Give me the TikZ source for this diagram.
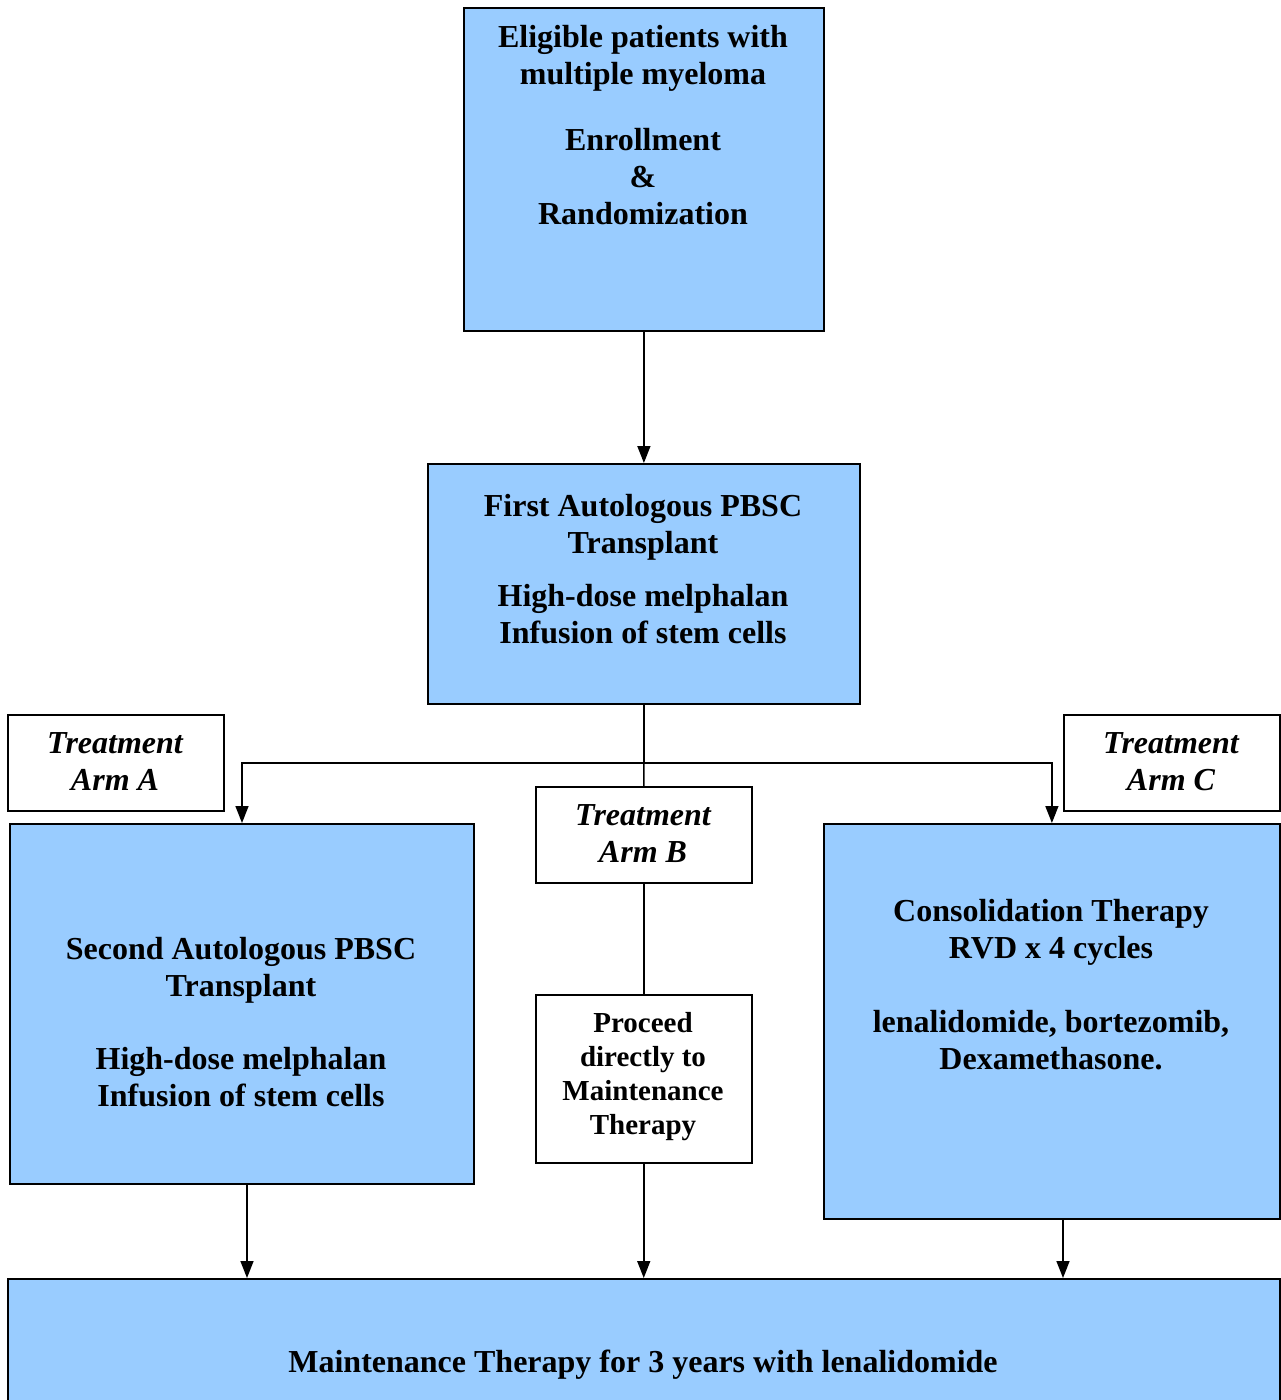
\documentclass[tikz,border=0pt]{standalone}
\usepackage{fontspec}
\setmainfont{Liberation Serif}
\usetikzlibrary{arrows.meta}
\definecolor{boxblue}{HTML}{99CCFF}
\tikzset{
  stage/.style={draw=black, line width=1.8pt, fill=boxblue, anchor=north west, inner sep=0pt},
  armbox/.style={draw=black, line width=1.5pt, fill=white, anchor=north west, inner sep=0pt},
  txt/.style={align=center, anchor=north, font=\fontsize{32}{37}\selectfont\bfseries, inner sep=0pt},
  armtxt/.style={align=center, anchor=north, font=\fontsize{32}{37}\selectfont\bfseries\itshape, inner sep=0pt},
  smalltxt/.style={align=center, anchor=north, font=\fontsize{29}{34}\selectfont\bfseries, inner sep=0pt},
  link/.style={line width=1.5pt},
  flow/.style={line width=1.5pt, -{Triangle[width=13pt,length=17pt]}}
}
\begin{document}
\begin{tikzpicture}[x=1pt,y=-1pt]
\useasboundingbox (0,0) rectangle (1281,1400);

% main stages
\node[stage, minimum width=360pt, minimum height=323pt] (enrol) at (463,7) {};
\node[stage, minimum width=432pt, minimum height=240pt] (first) at (427,463) {};
\node[stage, minimum width=464pt, minimum height=360pt] (second) at (9,823) {};
\node[stage, minimum width=456pt, minimum height=395pt] (consol) at (823,823) {};
\node[stage, minimum width=1272pt, minimum height=140pt] (maint) at (7,1278) {};

% arm labels
\node[armbox, minimum width=216pt, minimum height=96pt] (armA) at (7,714) {};
\node[armbox, minimum width=216pt, minimum height=96pt] (armB) at (535,786) {};
\node[armbox, minimum width=216pt, minimum height=96pt] (armC) at (1063,714) {};
\node[armbox, minimum width=216pt, minimum height=168pt] (direct) at (535,994) {};

% texts
\node[txt] (enrolT) at (643,25.5) {Eligible patients with\\multiple myeloma\\[29pt]Enrollment\\\&\\Randomization};
\node[txt] (firstT) at (643,494.5) {First Autologous PBSC\\Transplant\\[16pt]High-dose melphalan\\Infusion of stem cells};
\node[txt] (secondT) at (241,937.5) {Second Autologous PBSC\\Transplant\\[36pt]High-dose melphalan\\Infusion of stem cells};
\node[txt] (consolT) at (1051,899.5) {Consolidation Therapy\\RVD x 4 cycles\\[37pt]lenalidomide, bortezomib,\\Dexamethasone.};
\node[txt] (maintT) at (643,1349.5) {Maintenance Therapy for 3 years with lenalidomide};
\node[armtxt] (armAT) at (115,732.5) {Treatment\\Arm A};
\node[armtxt] (armBT) at (643,804.5) {Treatment\\Arm B};
\node[armtxt] (armCT) at (1171,732.5) {Treatment\\Arm C};
\node[smalltxt] (directT) at (643,1012.5) {Proceed\\directly to\\Maintenance\\Therapy};

% connectors
\coordinate (split) at (first.south |- 0,763);
\draw[flow] (enrol.south) -- (first.north);
\draw[link] (first.south) -- (split);
\draw[flow] (split) -| (second.north -| 242,0);
\draw[flow] (split) -| (consol.north);
\draw[link] (split) -- (armB.north);
\draw[link] (armB.south) -- (direct.north);
\draw[flow] (direct.south) -- (maint.north -| direct.south);
\draw[flow] (second.south -| 247,0) -- (maint.north -| 247,0);
\draw[flow] (consol.south -| 1063,0) -- (maint.north -| 1063,0);
\end{tikzpicture}
\end{document}
